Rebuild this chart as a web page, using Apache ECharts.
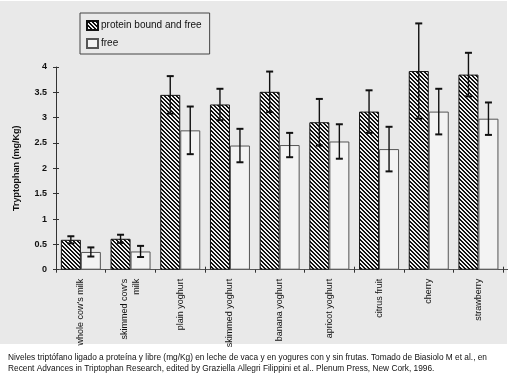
<!DOCTYPE html>
<html><head><meta charset="utf-8">
<script src="https://cdn.jsdelivr.net/npm/echarts@6/dist/echarts.min.js"></script>
<style>html,body{margin:0;padding:0;background:#fff;overflow:hidden;width:510px;height:375px}#c{width:560px;height:375px}</style>
</head><body><div id="c"></div>
<script>
const categories = ["whole cow's milk", "skimmed cow's\nmilk", "plain yoghurt", "skimmed yoghurt", "banana yoghurt", "apricot yoghurt", "citrus fruit", "cherry", "strawberry", ""];
const boundValues = [0.59, 0.61, 3.45, 3.26, 3.51, 2.91, 3.12, 3.92, 3.85, 3.45];
const boundErrors = [0.07, 0.08, 0.37, 0.31, 0.40, 0.46, 0.42, 0.94, 0.43, null];
const freeValues = [0.35, 0.36, 2.75, 2.45, 2.46, 2.53, 2.38, 3.12, 2.98, null];
const freeErrors = [0.09, 0.11, 0.47, 0.33, 0.24, 0.34, 0.44, 0.45, 0.32, null];
const yTicks = [0, 0.5, 1, 1.5, 2, 2.5, 3, 3.5, 4];
const seriesNames = ['protein bound and free', 'free'];
const yName = 'Tryptophan (mg/Kg)';
const captionLines = [
  'Niveles triptófano ligado a proteína y libre (mg/Kg) en leche de vaca y en yogures con y sin frutas. Tomado de Biasiolo M et al., en',
  'Recent Advances in Triptophan Research, edited by Graziella Allegri Filippini et al.. Plenum Press, New Cork, 1996.'
];

// hatch pattern
const pc = document.createElement('canvas'); pc.width = 4; pc.height = 4;
const pctx = pc.getContext('2d');
pctx.fillStyle = '#f2f2f2'; pctx.fillRect(0, 0, 4, 4);
pctx.fillStyle = '#111';
for (let y = 0; y < 4; y++) for (let x = 0; x < 4; x++) if ((((x - y) % 4) + 4) % 4 < 2) pctx.fillRect(x, y, 1, 1);
const hatch = { image: pc, repeat: 'repeat' };

// caption measurement
const mc = document.createElement('canvas').getContext('2d');
const capFont = '9px "Liberation Sans"';
mc.font = capFont;
const capScale = 479 / mc.measureText(captionLines[0]).width;

const BW = 20;
function errSeries(vals, errs, off) {
  return {
    type: 'custom', z: 5, clip: false,
    data: vals.map((v, i) => [i, v, errs[i]]),
    encode: { x: 0, y: 1 },
    renderItem: function (params, api) {
      const i = api.value(0), v = api.value(1), e = api.value(2);
      if (e == null || isNaN(e) || v == null || isNaN(v)) return;
      const hi = api.coord([i, v + e]), lo = api.coord([i, v - e]);
      const x = hi[0] + off;
      const st = { stroke: '#111', lineWidth: 1.4 };
      return { type: 'group', children: [
        { type: 'line', shape: { x1: x, y1: hi[1], x2: x, y2: lo[1] }, style: st },
        { type: 'line', shape: { x1: x - 3.5, y1: hi[1], x2: x + 3.5, y2: hi[1] }, style: { stroke: '#111', lineWidth: 2 } },
        { type: 'line', shape: { x1: x - 3.5, y1: lo[1], x2: x + 3.5, y2: lo[1] }, style: { stroke: '#111', lineWidth: 2 } }
      ] };
    }
  };
}

const chart = echarts.init(document.getElementById('c'), null, { renderer: 'canvas' });
chart.setOption({
  backgroundColor: '#ffffff',
  animation: false,
  textStyle: { fontFamily: '"Liberation Sans", Arial, sans-serif' },
  graphic: [
    { type: 'rect', z: -100, shape: { x: 0, y: 1, width: 507, height: 343 }, style: { fill: '#e9e9e9' } },
    { type: 'rect', z: 100, shape: { x: 508, y: 0, width: 60, height: 375 }, style: { fill: '#ffffff' } },
    { type: 'text', x: 8, y: 353, scaleX: capScale, style: { text: captionLines[0], font: capFont, fill: '#111' } },
    { type: 'text', x: 8, y: 364, scaleX: capScale, style: { text: captionLines[1], font: capFont, fill: '#111' } }
  ],
  legend: {
    orient: 'vertical', left: 80, top: 13, width: 128,
    data: seriesNames,
    itemWidth: 11, itemHeight: 9, itemGap: 7,
    padding: [7, 8, 5, 6],
    borderColor: '#444', borderWidth: 1,
    icon: 'rect',
    textStyle: { fontSize: 10, color: '#111', padding: [0, 0, 0, -2] }
  },
  grid: { left: 56, top: 67, width: 497, height: 202.7, containLabel: false },
  xAxis: [{
    type: 'category', data: categories, position: 'bottom',
    axisLine: { lineStyle: { color: '#555', width: 1 } },
    axisTick: { show: true, length: 3, lineStyle: { color: '#333' } },
    axisLabel: { rotate: 90, margin: 9, fontSize: 9, color: '#111', lineHeight: 12 }
  }, {
    type: 'category', data: categories, position: 'bottom',
    axisLine: { show: false }, axisLabel: { show: false },
    axisTick: { show: true, inside: true, length: 3, lineStyle: { color: '#333' } }
  }],
  yAxis: [{
    type: 'value', min: 0, max: 4, interval: 0.5, position: 'left',
    name: yName, nameLocation: 'middle', nameGap: 35, nameRotate: 90,
    nameTextStyle: { fontSize: 9, fontWeight: 'bold', color: '#111' },
    axisLine: { show: true, lineStyle: { color: '#333', width: 1 } },
    axisTick: { show: true, length: 3, lineStyle: { color: '#333' } },
    axisLabel: { fontSize: 9, fontWeight: 'bold', color: '#111', margin: 9, formatter: v => yTicks.includes(v) ? String(v) : '' },
    splitLine: { show: false }
  }, {
    type: 'value', min: 0, max: 4, interval: 0.5, position: 'left',
    axisLine: { show: false }, axisLabel: { show: false }, splitLine: { show: false },
    axisTick: { show: true, inside: true, length: 3, lineStyle: { color: '#333' } }
  }],
  series: [
    { name: seriesNames[0], type: 'bar', data: boundValues, barWidth: BW, barGap: '0%', z: 2,
      itemStyle: { color: hatch, borderColor: '#111', borderWidth: 1 } },
    { name: seriesNames[1], type: 'bar', data: freeValues, barWidth: BW, barGap: '0%', z: 2,
      itemStyle: { color: '#f3f3f3', borderColor: '#555', borderWidth: 1 } },
    errSeries(boundValues, boundErrors, -BW / 2),
    errSeries(freeValues, freeErrors, BW / 2)
  ]
});
</script></body></html>
